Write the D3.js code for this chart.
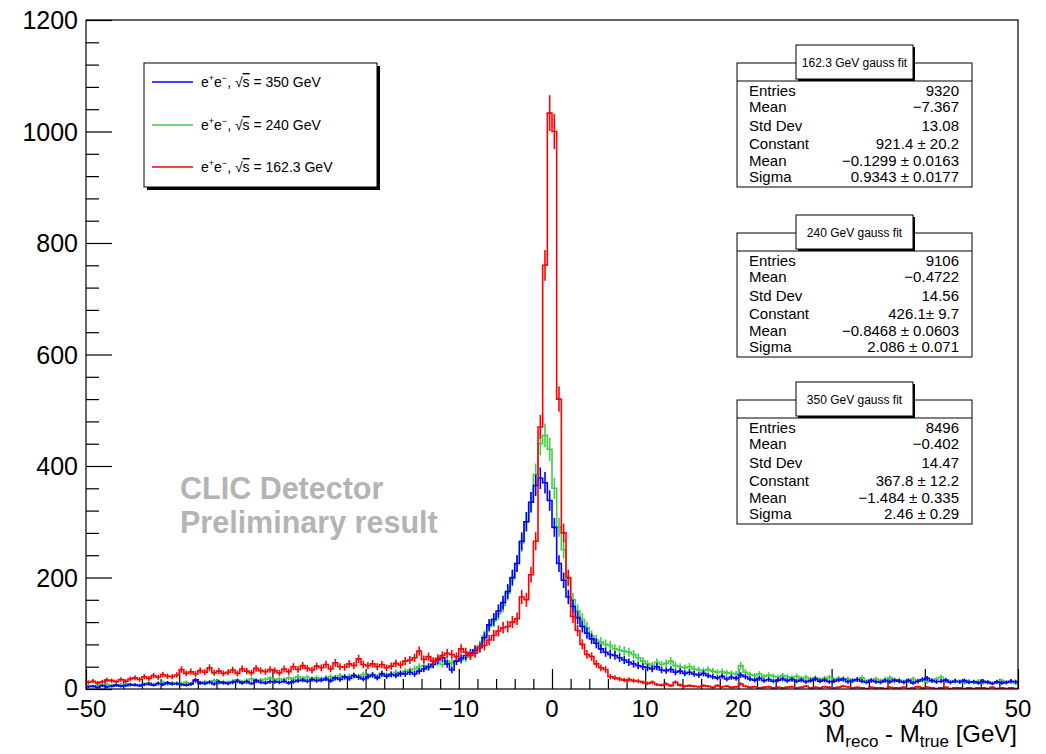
<!DOCTYPE html>
<html><head><meta charset="utf-8">
<script src="https://cdn.jsdelivr.net/npm/d3@7/dist/d3.min.js"></script>
<style>
body{margin:0;background:#fff}
text{font-family:"Liberation Sans",Arial,Helvetica,sans-serif;fill:#000}
</style>
</head><body>
<svg id="chart" width="1046" height="754"></svg>
<script>
// ---------- data ----------
const xMin = -50, xMax = 50, binWidth = 0.5;
const xTickValues = [-50,-40,-30,-20,-10,0,10,20,30,40,50];
const yTickValues = [0,200,400,600,800,1000,1200];

// bin contents, 200 bins of 0.5 GeV from -50 to 50
const red162 = [
 12,14,11,13,16,15,13,17,14,18,
 20,17,22,19,24,21,26,23,22,25,
 35,28,31,27,33,30,38,29,32,28,
 30,34,28,36,32,29,37,33,31,35,
 33,29,36,31,40,35,42,37,34,41,
 38,44,36,47,40,39,45,42,54,44,
 42,45,40,44,38,41,46,43,50,52,
 56,68,53,58,50,55,60,64,62,58,
 72,66,60,64,75,78,88,96,104,110,
 112,120,126,165,160,205,265,470,760,1033,
 1000,520,280,200,130,105,80,62,58,45,
 38,35,22,20,18,16,17,15,14,12,
 10,12,8,7,9,6,12,7,5,6,
 5,4,6,5,3,6,4,5,3,4,
 9,5,3,4,2,3,4,2,3,2,
 3,4,2,3,5,2,3,2,4,3,
 2,3,5,4,2,3,2,1,3,2,
 2,1,3,2,2,3,1,2,4,2,
 3,2,1,2,3,1,2,2,1,2,
 1,2,2,1,3,1,2,1,2,1
];
const green240 = [
 6,5,7,6,8,7,6,8,9,7,
 8,7,9,11,8,10,12,9,11,10,
 10,12,9,14,11,13,12,15,11,13,
 12,14,16,13,15,18,14,16,17,19,
 16,18,17,20,18,22,19,21,18,20,
 18,20,22,19,24,21,23,25,22,26,
 24,26,22,28,25,27,30,26,32,34,
 36,40,42,38,45,48,44,50,47,50,
 52,56,60,68,78,95,112,122,135,150,
 172,198,225,262,300,335,385,440,455,430,
 360,290,250,198,160,140,125,110,95,88,
 84,80,78,72,70,68,66,62,56,50,
 45,42,48,44,46,50,42,40,38,40,
 36,34,33,35,32,30,31,29,28,27,
 42,30,26,24,27,22,25,23,21,24,
 22,20,23,19,21,18,20,17,19,21,
 17,19,16,18,15,17,20,14,16,18,
 15,17,20,14,16,13,15,18,14,16,
 13,15,18,21,14,12,15,13,11,14,
 12,14,11,13,10,12,15,11,13,10
];
const blue350 = [
 4,5,3,6,4,5,7,5,6,8,
 7,6,8,9,7,10,8,11,9,10,
 8,7,9,16,11,10,12,9,13,11,
 10,12,14,11,13,10,15,12,11,13,
 13,12,14,11,13,15,16,14,17,15,
 16,18,15,20,17,22,19,24,21,18,
 22,25,20,27,23,26,24,28,27,30,
 27,32,36,40,44,52,56,45,34,50,
 55,60,64,70,74,92,115,125,140,155,
 175,200,225,265,300,335,365,378,370,338,
 290,225,195,165,148,128,112,100,90,82,
 72,66,62,60,56,52,48,45,42,40,
 38,36,40,34,33,35,30,32,28,30,
 27,25,28,24,22,20,23,18,21,19,
 25,22,18,16,19,15,17,14,16,18,
 15,17,14,16,13,15,18,14,16,13,
 14,16,18,13,15,17,14,12,15,13,
 12,15,13,16,14,12,15,11,14,17,
 19,15,13,14,16,12,14,13,15,12,
 13,11,14,12,10,13,11,12,14,13
];

const legendLabels = ["350 GeV", "240 GeV", "162.3 GeV"];
const statTitles = ["162.3 GeV gauss fit", "240 GeV gauss fit", "350 GeV gauss fit"];
const statNames = ["Entries","Mean","Std Dev","Constant","Mean","Sigma"];
const statValues162 = ["9320","\u22127.367","13.08","921.4 \u00b1 20.2","\u22120.1299 \u00b1 0.0163","0.9343 \u00b1 0.0177"];
const statValues240 = ["9106","\u22120.4722","14.56","426.1\u00b1 9.7","\u22120.8468 \u00b1 0.0603","2.086 \u00b1 0.071"];
const statValues350 = ["8496","\u22120.402","14.47","367.8 \u00b1 12.2","\u22121.484 \u00b1 0.335","2.46 \u00b1 0.29"];

// ---------- layout ----------
const svg = d3.select("#chart");
svg.append("rect").attr("width",1046).attr("height",754).attr("fill","#fff");
const L = 86, R = 1018, T = 20, B = 689;
const x = d3.scaleLinear().domain([xMin, xMax]).range([L, R]);
const y = d3.scaleLinear().domain([0, 1200]).range([B, T]);

const colors = {red:"#ff0000", green:"#44cc44", blue:"#0000ff"};

svg.append("clipPath").attr("id","clip").append("rect")
  .attr("x",L).attr("y",T).attr("width",R-L).attr("height",B-T);

// axes ticks
const yMinor = d3.range(0, 1201, 40);
const xMinor = d3.range(-50, 51, 2);
const styleTicks = g => { g.select(".domain").remove(); g.selectAll("line").attr("stroke","#000").attr("stroke-width",1.2); };
svg.append("g").attr("transform",`translate(${L},0)`)
  .call(d3.axisRight(y).tickValues(yMinor.filter(v=>v%200!==0)).tickSize(13).tickFormat(""))
  .call(styleTicks);
svg.append("g").attr("transform",`translate(${L},0)`)
  .call(d3.axisRight(y).tickValues(yTickValues).tickSize(26).tickFormat(""))
  .call(styleTicks);
svg.append("g").attr("transform",`translate(0,${B})`)
  .call(d3.axisTop(x).tickValues(xMinor.filter(v=>v%10!==0)).tickSize(10).tickFormat(""))
  .call(styleTicks);
svg.append("g").attr("transform",`translate(0,${B})`)
  .call(d3.axisTop(x).tickValues(xTickValues).tickSize(20).tickFormat(""))
  .call(styleTicks);

// tick labels
const fmt = v => (v < 0 ? "\u2212" + Math.abs(v) : String(v));
svg.append("g").selectAll("text").data(yTickValues).join("text")
  .attr("x", 78).attr("y", d => y(d) + (d === 0 ? 8 : 9)).attr("text-anchor","end")
  .attr("font-size", 25).text(d => d);
svg.append("g").selectAll("text").data(xTickValues).join("text")
  .attr("x", d => x(d)).attr("y", 717).attr("text-anchor","middle")
  .attr("font-size", 24).text(fmt);

// axis title
const xt = svg.append("text").attr("x", 1017).attr("y", 742).attr("text-anchor","end").attr("font-size",24);
xt.append("tspan").text("M");
xt.append("tspan").attr("font-size",17).attr("dy",5).text("reco");
xt.append("tspan").attr("dy",-5).text(" - M");
xt.append("tspan").attr("font-size",17).attr("dy",5).text("true");
xt.append("tspan").attr("dy",-5).text(" [GeV]");

// watermark
svg.append("text").attr("x",180).attr("y",499).attr("font-size",30.5).attr("font-weight","bold")
  .style("fill","#b4b4b4").text("CLIC Detector");
svg.append("text").attr("x",180).attr("y",533).attr("font-size",30.5).attr("font-weight","bold")
  .style("fill","#b4b4b4").text("Preliminary result");

// histograms
const series = [
  {values: green240, color: colors.green},
  {values: blue350, color: colors.blue},
  {values: red162, color: colors.red}
];
const hg = svg.append("g").attr("clip-path","url(#clip)");
const stepLine = d3.line().x(d=>x(d[0])).y(d=>y(d[1])).curve(d3.curveStepAfter);
series.forEach(s => {
  const pts = s.values.map((v,i)=>[xMin + i*binWidth, v]);
  pts.push([xMax, s.values[s.values.length-1]]);
  hg.append("path").attr("d", stepLine(pts)).attr("fill","none")
    .attr("stroke", s.color).attr("stroke-width",1.6);
  hg.append("g").selectAll("line").data(s.values).join("line")
    .attr("x1",(v,i)=>x(xMin + (i+0.5)*binWidth)).attr("x2",(v,i)=>x(xMin + (i+0.5)*binWidth))
    .attr("y1",v=>y(v - Math.sqrt(v))).attr("y2",v=>y(v + Math.sqrt(v)))
    .attr("stroke", s.color).attr("stroke-width",1.6);
});

// frame
svg.append("rect").attr("x",L).attr("y",T).attr("width",R-L).attr("height",B-T)
  .attr("fill","none").attr("stroke","#000").attr("stroke-width",1.2);

// legend
const lg = svg.append("g");
lg.append("rect").attr("x",147).attr("y",66).attr("width",233).attr("height",124).attr("fill","#000");
lg.append("rect").attr("x",144).attr("y",63).attr("width",233).attr("height",124)
  .attr("fill","#fff").attr("stroke","#000").attr("stroke-width",1);
const legColors = [colors.blue, colors.green, colors.red];
const legY = [82, 125, 167];
legendLabels.forEach((lab,i)=>{
  lg.append("line").attr("x1",152).attr("x2",193).attr("y1",legY[i]).attr("y2",legY[i])
    .attr("stroke",legColors[i]).attr("stroke-width",1.6);
  const t = lg.append("text").attr("x",201).attr("y",legY[i]+5).attr("font-size",14);
  t.append("tspan").text("e");
  t.append("tspan").attr("font-size",9).attr("dy",-6).text("+");
  t.append("tspan").attr("dy",6).text("e");
  t.append("tspan").attr("font-size",9).attr("dy",-6).text("\u2212");
  t.append("tspan").attr("dy",6).text(", \u221a");
  t.append("tspan").style("text-decoration","overline").text("s");
  t.append("tspan").text(" = " + lab);
});

// stat boxes
const statSets = [statValues162, statValues240, statValues350];
const boxTops = [63, 233, 400];
statSets.forEach((vals, k) => {
  const top = boxTops[k];
  const g = svg.append("g");
  g.append("rect").attr("x",737).attr("y",top).attr("width",235).attr("height",124)
    .attr("fill","#fff").attr("stroke","#000").attr("stroke-width",1);
  g.append("line").attr("x1",737).attr("x2",972).attr("y1",top+18).attr("y2",top+18)
    .attr("stroke","#000").attr("stroke-width",1);
  g.append("rect").attr("x",798).attr("y",top-16).attr("width",117).attr("height",34).attr("fill","#000");
  g.append("rect").attr("x",796).attr("y",top-18).attr("width",117).attr("height",34)
    .attr("fill","#fff").attr("stroke","#000").attr("stroke-width",1);
  g.append("text").attr("x",854.5).attr("y",top+4).attr("text-anchor","middle")
    .attr("font-size",12).text(statTitles[k]);
  const base = [33, 49, 68, 86, 103, 119];
  statNames.forEach((n,i)=>{
    g.append("text").attr("x",749).attr("y",top+base[i]).attr("font-size",15).text(n);
    g.append("text").attr("x",959).attr("y",top+base[i]).attr("font-size",15)
      .attr("text-anchor","end").text(vals[i]);
  });
});
</script>
</body></html>
